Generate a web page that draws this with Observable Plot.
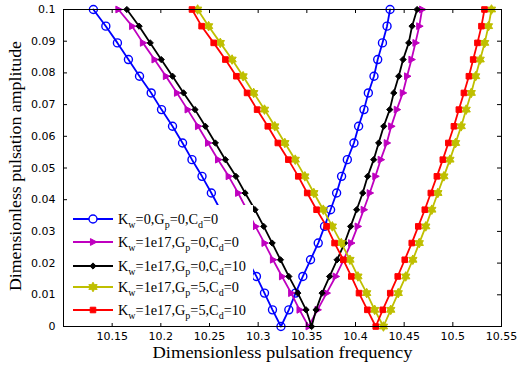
<!DOCTYPE html>
<html><head><meta charset="utf-8">
<script src="https://cdn.jsdelivr.net/npm/d3@7"></script>
<script src="https://cdn.jsdelivr.net/npm/@observablehq/plot@0.6"></script>
<style>
body{margin:0;background:#fff;}
#wrap{position:relative;width:518px;height:372px;}
#legend{position:absolute;left:64px;top:205px;width:189px;height:118px;background:#fff;}
.row{position:absolute;left:0;height:20px;display:flex;align-items:center;}
.row svg{display:block;overflow:visible}
.lab{font-family:"Liberation Serif","Times New Roman",serif;font-size:14.3px;color:#000;white-space:nowrap;margin-left:4px;line-height:20px}
.lab sub{font-size:10px;vertical-align:-4px;line-height:0}
</style></head><body><div id="wrap"></div>
<script>
// amplitude levels (k = 0..19)
const amplitude = [0, 0.00526, 0.01053, 0.01579, 0.02105, 0.02632, 0.03158, 0.03684, 0.04211, 0.04737,
  0.05263, 0.05789, 0.06316, 0.06842, 0.07368, 0.07895, 0.08421, 0.08947, 0.09474, 0.1];

// frequencies of left (lower) and right (upper) branches, indexed like amplitude
const blueLeft = [10.3234, 10.3147, 10.3065, 10.2982, 10.2890, 10.2797, 10.2704, 10.2611, 10.2519, 10.2423, 10.2320, 10.2223, 10.2120, 10.2007, 10.1901, 10.1781, 10.1667, 10.1554, 10.1435, 10.1307];
const blueRight = [10.3234, 10.3315, 10.3384, 10.3459, 10.3538, 10.3617, 10.3682, 10.3744, 10.3806, 10.3857, 10.3916, 10.3984, 10.4032, 10.4087, 10.4132, 10.4190, 10.4228, 10.4277, 10.4324, 10.4355];
const magentaLeft = [10.3518, 10.3425, 10.3339, 10.3245, 10.3152, 10.3065, 10.2972, 10.2884, 10.2794, 10.2697, 10.2588, 10.2485, 10.2382, 10.2275, 10.2166, 10.2052, 10.1935, 10.1816, 10.1705, 10.1564];
const magentaRight = [10.3518, 10.3610, 10.3703, 10.3796, 10.3878, 10.3955, 10.4022, 10.4084, 10.4146, 10.4204, 10.4259, 10.4321, 10.4367, 10.4424, 10.4486, 10.4530, 10.4575, 10.4616, 10.4655, 10.4684];
const blackLeft = [10.3549, 10.3492, 10.3407, 10.3315, 10.3229, 10.3144, 10.3057, 10.2967, 10.2866, 10.2771, 10.2663, 10.2560, 10.2457, 10.2351, 10.2234, 10.2120, 10.2004, 10.1891, 10.1777, 10.1651];
const blackRight = [10.3549, 10.3595, 10.3657, 10.3734, 10.3811, 10.3888, 10.3950, 10.4012, 10.4074, 10.4125, 10.4187, 10.4238, 10.4290, 10.4352, 10.4393, 10.4444, 10.4489, 10.4547, 10.4581, 10.4633];
const yellowLeft = [10.4287, 10.4197, 10.4115, 10.4025, 10.3943, 10.3854, 10.3762, 10.3669, 10.3572, 10.3480, 10.3381, 10.3274, 10.3171, 10.3065, 10.2954, 10.2845, 10.2732, 10.2611, 10.2491, 10.2378];
const yellowRight = [10.4287, 10.4362, 10.4439, 10.4516, 10.4589, 10.4655, 10.4722, 10.4784, 10.4846, 10.4908, 10.4970, 10.5028, 10.5086, 10.5137, 10.5189, 10.5234, 10.5281, 10.5327, 10.5366, 10.5397];
const redLeft = [10.4208, 10.4122, 10.4036, 10.3957, 10.3875, 10.3785, 10.3703, 10.3600, 10.3504, 10.3412, 10.3310, 10.3202, 10.3099, 10.2989, 10.2886, 10.2776, 10.2663, 10.2543, 10.2419, 10.2320];
const redRight = [10.4208, 10.4280, 10.4357, 10.4434, 10.4506, 10.4578, 10.4645, 10.4712, 10.4774, 10.4836, 10.4897, 10.4954, 10.5011, 10.5062, 10.5114, 10.5165, 10.5209, 10.5253, 10.5294, 10.5325];

const seriesLabels = ["K_w=0,G_p=0,C_d=0", "K_w=1e17,G_p=0,C_d=0", "K_w=1e17,G_p=0,C_d=10", "K_w=1e17,G_p=5,C_d=0", "K_w=1e17,G_p=5,C_d=10"];
const seriesColors = ["#0000ff", "#bf00bf", "#000000", "#bfbf00", "#ff0000"];

const xTicks = [10.15, 10.2, 10.25, 10.3, 10.35, 10.4, 10.45, 10.5, 10.55];
const xTickLabels = ["10.15", "10.2", "10.25", "10.3", "10.35", "10.4", "10.45", "10.5", "10.55"];
const yTicks = [0, 0.01, 0.02, 0.03, 0.04, 0.05, 0.06, 0.07, 0.08, 0.09, 0.1];
const yTickLabels = ["0", "0.01", "0.02", "0.03", "0.04", "0.05", "0.06", "0.07", "0.08", "0.09", "0.1"];
const xLabel = "Dimensionless pulsation frequency";
const yLabel = "Dimensionless pulsation amplitude";

// custom marker shapes
const triRight = {draw(ctx, size){const r = Math.sqrt(size/Math.PI); ctx.moveTo(r*1.15,0); ctx.lineTo(-r*0.75,-r); ctx.lineTo(-r*0.75,r); ctx.closePath();}};
const hexagram = {draw(ctx, size){const r = Math.sqrt(size/Math.PI)*1.2, ri = r/Math.sqrt(3);
  for (let i = 0; i < 12; i++){const a = -Math.PI/2 + i*Math.PI/6, rr = i%2 ? ri : r; const x = rr*Math.cos(a), y = rr*Math.sin(a); i ? ctx.lineTo(x,y) : ctx.moveTo(x,y);} ctx.closePath();}};
const diamondSym = {draw(ctx, size){const r = Math.sqrt(size/Math.PI)*1.2; ctx.moveTo(0,-r); ctx.lineTo(r,0); ctx.lineTo(0,r); ctx.lineTo(-r,0); ctx.closePath();}};
const squareSym = {draw(ctx, size){const r = Math.sqrt(size/Math.PI)*0.9; ctx.rect(-r,-r,2*r,2*r);}};

const branches = [[blueLeft, blueRight], [magentaLeft, magentaRight], [blackLeft, blackRight], [yellowLeft, yellowRight], [redLeft, redRight]];
const markers = [
  {symbol: "circle", r: 4, fill: "none", strokeWidth: 1.4},
  {symbol: triRight, r: 3.4, fill: "c", strokeWidth: 1},
  {symbol: diamondSym, r: 2.6, fill: "c", strokeWidth: 1},
  {symbol: hexagram, r: 4, fill: "c", strokeWidth: 1},
  {symbol: squareSym, r: 3.1, fill: "c", strokeWidth: 1}
];

const seriesRows = branches.map(([L, R], s) => {
  const rows = [];
  for (let k = amplitude.length - 1; k >= 0; k--) rows.push({f: L[k], a: amplitude[k], s});
  for (let k = 1; k < amplitude.length; k++) rows.push({f: R[k], a: amplitude[k], s});
  return rows;
});

const W = 518, H = 372, mL = 63, mR = 17, mT = 9, mB = 46;
const fw = W - mL - mR, fh = H - mT - mB;

const marks = [];
seriesRows.forEach((rows, s) => {
  const c = seriesColors[s], m = markers[s];
  marks.push(Plot.line(rows, {x: "f", y: "a", stroke: c, strokeWidth: 1.8, strokeLinejoin: "round"}));
  marks.push(Plot.dot(rows, {x: "f", y: "a", symbol: m.symbol, r: m.r, stroke: c, strokeWidth: m.strokeWidth, fill: m.fill === "c" ? c : "none"}));
});

const chart = Plot.plot({
  width: W, height: H, marginLeft: mL, marginRight: mR, marginTop: mT, marginBottom: mB,
  style: {fontFamily: "'DejaVu Sans', sans-serif", fontSize: "11px", background: "white", color: "black"},
  x: {domain: [10.1, 10.55]},
  y: {domain: [0, 0.1]},
  marks: [
    ...marks,
    Plot.tickX(xTicks, {x: d => d, insetTop: fh - 4, stroke: "black"}),
    Plot.tickX(xTicks, {x: d => d, insetBottom: fh - 4, stroke: "black"}),
    Plot.tickY(yTicks, {y: d => d, insetRight: fw - 4, stroke: "black"}),
    Plot.tickY(yTicks, {y: d => d, insetLeft: fw - 4, stroke: "black"}),
    Plot.frame({stroke: "black", strokeWidth: 1}),
    Plot.axisX({ticks: xTicks, tickSize: 0, tickPadding: 6, tickFormat: d => xTickLabels[xTicks.indexOf(d)], label: null}),
    Plot.axisY({ticks: yTicks, tickSize: 0, tickPadding: 8, tickFormat: d => yTickLabels[yTicks.indexOf(d)], label: null}),
    Plot.text([xLabel], {text: d => d, frameAnchor: "bottom", dy: 31, fontFamily: "'Liberation Serif', serif", fontSize: 16.5, fill: "black"}),
    Plot.text([yLabel], {text: d => d, frameAnchor: "left", dx: -48, dy: 123, rotate: -90, textAnchor: "start", fontFamily: "'Liberation Serif', serif", fontSize: 16.5, fill: "black"})
  ]
});

chart.querySelectorAll("text").forEach(t => {
  if (t.textContent === xLabel) { t.setAttribute("textLength", 260); t.setAttribute("lengthAdjust", "spacingAndGlyphs"); }
  if (t.textContent === yLabel) { t.setAttribute("textLength", 250); t.setAttribute("lengthAdjust", "spacingAndGlyphs"); }
});

const wrap = document.getElementById("wrap");
wrap.appendChild(chart);

// legend
const legend = document.createElement("div");
legend.id = "legend";
const rowCenters = [14, 37.3, 60.7, 82.3, 105];
seriesLabels.forEach((lab, s) => {
  const row = document.createElement("div");
  row.className = "row";
  row.style.top = (rowCenters[s] - 10) + "px";
  const c = seriesColors[s], m = markers[s];
  const sym = typeof m.symbol === "string" ? d3.symbolCircle : m.symbol;
  const path = d3.symbol(sym, Math.PI * m.r * m.r)();
  row.innerHTML = `<svg width="50" height="20"><line x1="9" y1="10" x2="49" y2="10" stroke="${c}" stroke-width="1.8"/>` +
    `<path d="${path}" transform="translate(29,10)" stroke="${c}" stroke-width="${m.strokeWidth}" fill="${m.fill === "c" ? c : "white"}"/></svg>` +
    `<span class="lab">${lab.replace(/_(\w)/g, "<sub>$1</sub>")}</span>`;
  legend.appendChild(row);
});
wrap.appendChild(legend);
</script>
</body></html>
